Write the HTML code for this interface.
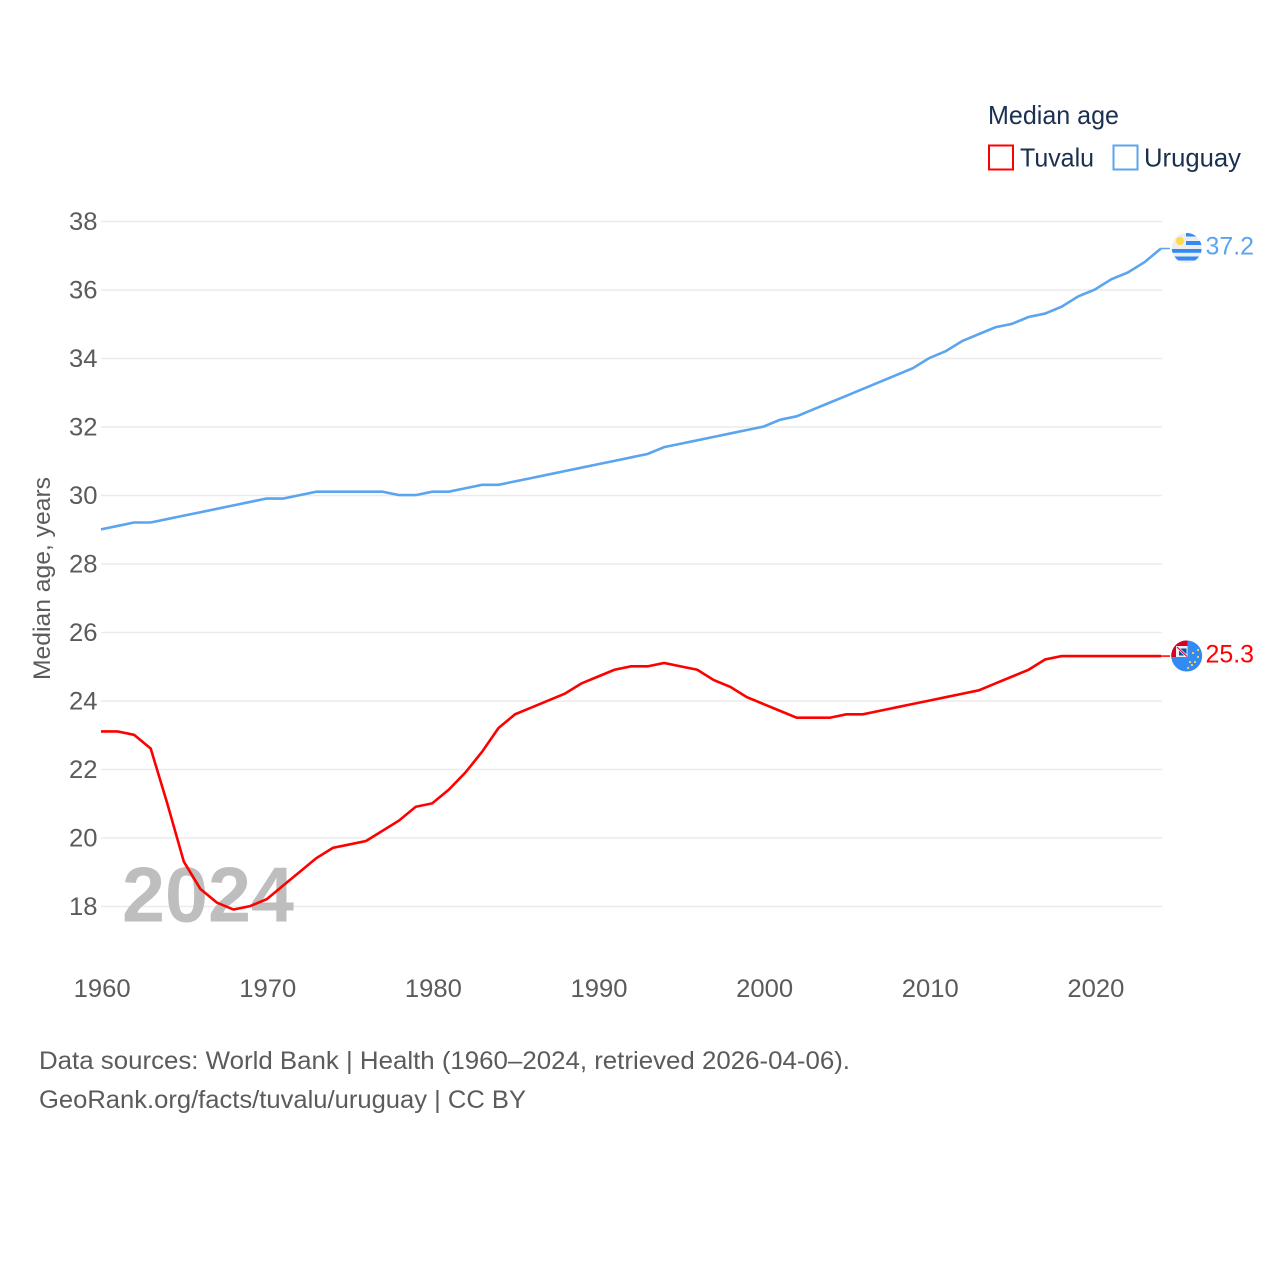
<!DOCTYPE html>
<html lang="en">
<head>
<meta charset="utf-8">
<title>Median age: Tuvalu and Uruguay</title>
<style>
html,body{margin:0;padding:0;background:#fff;}
svg{display:block;font-family:"Liberation Sans",sans-serif;}
</style>
</head>
<body>
<svg id="chart" xmlns="http://www.w3.org/2000/svg" width="1280" height="1280" viewBox="0 0 1280 1280">
  <rect x="0" y="0" width="1280" height="1280" fill="#ffffff"/>
  <g id="grid"></g>
  <g id="ytick-labels"></g>
  <g id="xtick-labels"></g>
  <text x="122" y="921.500" font-size="78" font-weight="700" fill="#bebebe" textLength="172" lengthAdjust="spacingAndGlyphs">2024</text>
  <text transform="translate(50,680) rotate(-90)" font-size="24" fill="#5b5b5b" textLength="203" lengthAdjust="spacingAndGlyphs">Median age, years</text>
  <g id="series"></g>

  <g>
    <text x="988" y="124" font-size="26" fill="#1a3050" textLength="131" lengthAdjust="spacingAndGlyphs">Median age</text>
    <rect x="989" y="145.500" width="24" height="24" fill="none" stroke="#ff0000" stroke-width="2"/>
    <text x="1020" y="166.500" font-size="26" fill="#1a3050" textLength="74" lengthAdjust="spacingAndGlyphs">Tuvalu</text>
    <rect x="1113.500" y="145.500" width="24" height="24" fill="none" stroke="#5ba4ee" stroke-width="2"/>
    <text x="1144" y="166.500" font-size="26" fill="#1a3050" textLength="97" lengthAdjust="spacingAndGlyphs">Uruguay</text>
  </g>

  <defs>
    <clipPath id="flag-clip-uy"><circle cx="1186.700" cy="248" r="15"/></clipPath>
    <clipPath id="flag-clip-tv"><circle cx="1186.700" cy="656" r="15.500"/></clipPath>
  </defs>

  <g clip-path="url(#flag-clip-uy)">
    <rect x="1171" y="232" width="32" height="32" fill="#eeeeee"/>
    <rect x="1186" y="232" width="17" height="4.500" fill="#338af3"/>
    <rect x="1186" y="241" width="17" height="4" fill="#338af3"/>
    <rect x="1171" y="249" width="32" height="3.800" fill="#338af3"/>
    <rect x="1171" y="256.500" width="32" height="4" fill="#338af3"/>
    <circle cx="1180" cy="241" r="4" fill="#ffda44"/>
  </g>
  <g clip-path="url(#flag-clip-tv)">
    <rect x="1171" y="640" width="32" height="32" fill="#338af3"/>
    <rect x="1171" y="640" width="16.500" height="17" fill="#d80027"/>
    <rect x="1176" y="646" width="11.500" height="11" fill="#eeeeee"/>
    <rect x="1179" y="648.500" width="7.500" height="7" fill="#0052b4"/>
    <path d="M1177 647l10 9.500" stroke="#eeeeee" stroke-width="2.500" fill="none"/>
    <path d="M1177 647l10 9.500" stroke="#d80027" stroke-width="1" fill="none"/>
    <g fill="#ffda44">
      <circle cx="1198" cy="650" r="1.100"/>
      <circle cx="1193" cy="653" r="1.100"/>
      <circle cx="1198" cy="657" r="1.100"/>
      <circle cx="1190" cy="662" r="1.100"/>
      <circle cx="1195" cy="662" r="1.100"/>
      <circle cx="1192" cy="665" r="1.100"/>
      <circle cx="1188" cy="668" r="1.100"/>
    </g>
  </g>

  <text id="label-uy" x="1205.500" y="254.500" font-size="25" fill="#5ba4ee" textLength="48.500" lengthAdjust="spacingAndGlyphs"></text>
  <text id="label-tv" x="1205.500" y="662.500" font-size="25" fill="#ff0000" textLength="48.500" lengthAdjust="spacingAndGlyphs"></text>

  <g>
    <text x="39" y="1069" font-size="25" fill="#5b5b5b" textLength="811" lengthAdjust="spacingAndGlyphs">Data sources: World Bank | Health (1960–2024, retrieved 2026-04-06).</text>
    <text x="39" y="1108" font-size="25" fill="#5b5b5b" textLength="487" lengthAdjust="spacingAndGlyphs">GeoRank.org/facts/tuvalu/uruguay | CC BY</text>
  </g>
</svg>
<script>
const startYear = 1960;
const yTicks = [18, 20, 22, 24, 26, 28, 30, 32, 34, 36, 38];
const xTicks = [1960, 1970, 1980, 1990, 2000, 2010, 2020];
const uruguay = [29.0,29.1,29.2,29.2,29.3,29.4,29.5,29.6,29.7,29.8,29.9,29.9,30.0,30.1,30.1,30.1,30.1,30.1,30.0,30.0,30.1,30.1,30.2,30.3,30.3,30.4,30.5,30.6,30.7,30.8,30.9,31.0,31.1,31.2,31.4,31.5,31.6,31.7,31.8,31.9,32.0,32.2,32.3,32.5,32.7,32.9,33.1,33.3,33.5,33.7,34.0,34.2,34.5,34.7,34.9,35.0,35.2,35.3,35.5,35.8,36.0,36.3,36.5,36.8,37.2];
const tuvalu = [23.1,23.1,23.0,22.6,21.0,19.3,18.5,18.1,17.9,18.0,18.2,18.6,19.0,19.4,19.7,19.8,19.9,20.2,20.5,20.9,21.0,21.4,21.9,22.5,23.2,23.6,23.8,24.0,24.2,24.5,24.7,24.9,25.0,25.0,25.1,25.0,24.9,24.6,24.4,24.1,23.9,23.7,23.5,23.5,23.5,23.6,23.6,23.7,23.8,23.9,24.0,24.1,24.2,24.3,24.5,24.7,24.9,25.2,25.3,25.3,25.3,25.3,25.3,25.3,25.3];

const NS = 'http://www.w3.org/2000/svg';
function xScale(year) { return 101 + (year - 1960) * 16.5625; }
function yScale(value) { return 906.5 - (value - 18) * 34.25; }
function lineY(value) { return yScale(value) - 0.4; }

const grid = document.getElementById('grid');
const yGroup = document.getElementById('ytick-labels');
const xGroup = document.getElementById('xtick-labels');
const seriesGroup = document.getElementById('series');

yTicks.forEach(function (tick) {
  const line = document.createElementNS(NS, 'line');
  
  
  line.setAttribute('x1', 101);
  line.setAttribute('x2', 1162);
  line.setAttribute('y1', yScale(tick));
  line.setAttribute('y2', yScale(tick));
  line.setAttribute('stroke', '#ebebeb');
  line.setAttribute('stroke-width', 1.5);
  grid.appendChild(line);

  const label = document.createElementNS(NS, 'text');
  
  
  label.setAttribute('x', 69);
  label.setAttribute('y', yScale(tick) + 8.3);
  label.setAttribute('font-size', 25);
  label.setAttribute('fill', '#5b5b5b');
  label.setAttribute('textLength', 28.5);
  label.setAttribute('lengthAdjust', 'spacingAndGlyphs');
  label.textContent = String(tick);
  yGroup.appendChild(label);
});

xTicks.forEach(function (tick) {
  const label = document.createElementNS(NS, 'text');
  
  
  label.setAttribute('x', xScale(tick) + 1.2);
  label.setAttribute('y', 997);
  label.setAttribute('font-size', 25);
  label.setAttribute('fill', '#5b5b5b');
  label.setAttribute('text-anchor', 'middle');
  label.setAttribute('textLength', 57);
  label.setAttribute('lengthAdjust', 'spacingAndGlyphs');
  label.textContent = String(tick);
  xGroup.appendChild(label);
});

function linePath(values) {
  return values.map(function (value, i) {
    return (i ? 'L' : 'M') + xScale(startYear + i).toFixed(2) + ' ' + lineY(value).toFixed(2);
  }).join('');
}

function connectorPath(values) {
  const last = values.length - 1;
  const end = xScale(startYear + last);
  return 'M' + end.toFixed(2) + ' ' + lineY(values[last]).toFixed(2) + 'H' + (end + 9).toFixed(2);
}

const uruguayLine = document.createElementNS(NS, 'path');


uruguayLine.setAttribute('d', linePath(uruguay));
uruguayLine.setAttribute('fill', 'none');
uruguayLine.setAttribute('stroke', '#5ba4ee');
uruguayLine.setAttribute('stroke-width', 2.6);
seriesGroup.appendChild(uruguayLine);

const uruguayConnector = document.createElementNS(NS, 'path');


uruguayConnector.setAttribute('d', connectorPath(uruguay));
uruguayConnector.setAttribute('fill', 'none');
uruguayConnector.setAttribute('stroke', '#5ba4ee');
uruguayConnector.setAttribute('stroke-width', 1.5);
seriesGroup.appendChild(uruguayConnector);

const tuvaluLine = document.createElementNS(NS, 'path');


tuvaluLine.setAttribute('d', linePath(tuvalu));
tuvaluLine.setAttribute('fill', 'none');
tuvaluLine.setAttribute('stroke', '#ff0000');
tuvaluLine.setAttribute('stroke-width', 2.6);
seriesGroup.appendChild(tuvaluLine);

const tuvaluConnector = document.createElementNS(NS, 'path');


tuvaluConnector.setAttribute('d', connectorPath(tuvalu));
tuvaluConnector.setAttribute('fill', 'none');
tuvaluConnector.setAttribute('stroke', '#ff0000');
tuvaluConnector.setAttribute('stroke-width', 1.5);
seriesGroup.appendChild(tuvaluConnector);

document.getElementById('label-uy').textContent = uruguay[uruguay.length - 1].toFixed(1);
document.getElementById('label-tv').textContent = tuvalu[tuvalu.length - 1].toFixed(1);
</script>
</body>
</html>
